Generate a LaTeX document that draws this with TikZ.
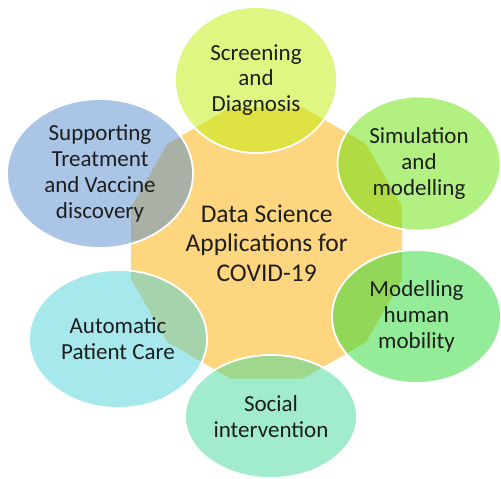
\documentclass[tikz,border=0pt]{standalone}
\usepackage{fontspec}
\setmainfont{Carlito}
\usetikzlibrary{shapes.geometric}

% Hub and satellite colours
\definecolor{hubfill}{RGB}{254,214,128}
\definecolor{cScreen}{RGB}{191,239,5}
\definecolor{cSim}{RGB}{101,225,5}
\definecolor{cMob}{RGB}{41,217,49}
\definecolor{cSocial}{RGB}{65,217,153}
\definecolor{cCare}{RGB}{77,209,217}
\definecolor{cTreat}{RGB}{85,139,205}
\definecolor{ink}{RGB}{30,30,30}

\tikzset{
  hub/.style={regular polygon, regular polygon sides=12, minimum size=280.6pt,
    inner sep=0pt, fill=hubfill, draw=none, align=center, text=ink,
    font=\fontsize{25.5}{29.5}\selectfont},
  sat/.style={ellipse, inner sep=0pt, fill=#1, fill opacity=0.5, text opacity=1,
    draw=white, draw opacity=1, line width=1.8pt, align=center, text=ink,
    font=\fontsize{23}{25.8}\selectfont},
}

\begin{document}
\begin{tikzpicture}[x=1pt, y=-1pt]
  \useasboundingbox (0,0) rectangle (501,479);

  % central dodecagon
  \node[hub] (hub) at (266.7,243) {Data Science\\Applications for\\COVID-19};

  % satellites around the hub
  \node[sat=cScreen, minimum width=162pt, minimum height=146pt] (screen) at (256,80)
    {Screening\\and\\Diagnosis};
  \node[sat=cSim, minimum width=163pt, minimum height=134pt] (sim) at (419,163.5)
    {Simulation\\and\\modelling};
  \node[sat=cMob, minimum width=169pt, minimum height=133pt] (mob) at (416.5,316.5)
    {Modelling\\human\\mobility};
  \node[sat=cSocial, minimum width=172pt, minimum height=123pt] (social) at (271,416.5)
    {Social\\intervention};
  \node[sat=cCare, minimum width=178pt, minimum height=138pt] (care) at (118,339)
    {Automatic\\Patient Care};
  \node[sat=cTreat, minimum width=186pt, minimum height=149pt] (treat) at (100,173.5)
    {Supporting\\Treatment\\and Vaccine\\discovery};
\end{tikzpicture}
\end{document}
